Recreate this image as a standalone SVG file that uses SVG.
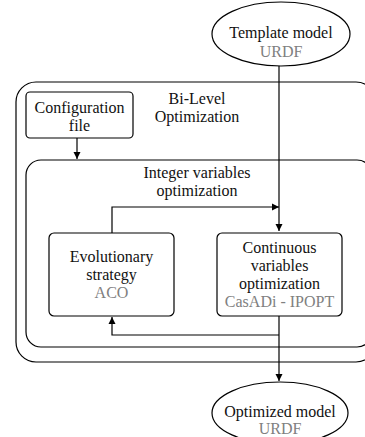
<svg xmlns="http://www.w3.org/2000/svg" width="365" height="437" viewBox="0 0 365 437">
<defs>
<marker id="ah" markerWidth="8" markerHeight="8" refX="7" refY="4" orient="auto" markerUnits="userSpaceOnUse">
<path d="M0,0.5 L7,4 L0,7.5 Z" fill="#000"/>
</marker>
<style>
.box{fill:#fff;stroke:#000;stroke-width:1.2}
.t{font-size:16px;fill:#111;text-anchor:middle}
.g{fill:#808080}
.c{fill:none;stroke:#000;stroke-width:1.2}
</style>
</defs>
<g font-family="Liberation Serif, Times New Roman, DejaVu Serif, serif">
<g id="bilevel">
<rect class="box" x="16" y="82" width="360" height="280" rx="20"/>
<text class="t" x="197" y="104">Bi-Level</text>
<text class="t" x="197" y="122">Optimization</text>
</g>
<g id="config">
<rect class="box" x="26" y="92" width="107" height="46" rx="4"/>
<text class="t" x="79.5" y="113">Configuration</text>
<text class="t" x="79.5" y="131">file</text>
</g>
<g id="integer">
<rect class="box" x="26" y="160" width="346" height="187" rx="15"/>
<text class="t" x="197" y="178">Integer variables</text>
<text class="t" x="197" y="196">optimization</text>
</g>
<g id="evolutionary">
<rect class="box" x="49" y="233" width="125" height="83" rx="5"/>
<text class="t" x="111.5" y="262">Evolutionary</text>
<text class="t" x="111.5" y="280">strategy</text>
<text class="t g" x="111.5" y="298">ACO</text>
</g>
<g id="continuous">
<rect class="box" x="217" y="233" width="125" height="83" rx="5"/>
<text class="t" x="279.5" y="253">Continuous</text>
<text class="t" x="279.5" y="271">variables</text>
<text class="t" x="279.5" y="289">optimization</text>
<text class="t g" x="279.5" y="307">CasADi - IPOPT</text>
</g>
<g id="template">
<ellipse class="box" cx="281" cy="34" rx="69" ry="32"/>
<text class="t" x="281" y="38">Template model</text>
<text class="t g" x="281" y="57">URDF</text>
</g>
<g id="optimized">
<ellipse class="box" cx="280" cy="413" rx="68" ry="31"/>
<text class="t" x="280" y="417">Optimized model</text>
<text class="t g" x="280" y="434">URDF</text>
</g>
</g>
<g id="connectors">
<path class="c" d="M279,66 L279,231" marker-end="url(#ah)"/>
<path class="c" d="M77,138 L77,159" marker-end="url(#ah)"/>
<path class="c" d="M112,233 L112,207 L279,207" marker-end="url(#ah)"/>
<path class="c" d="M279,316 L279,381" marker-end="url(#ah)"/>
<path class="c" d="M279,335 L112,335 L112,317" marker-end="url(#ah)"/>
</g>
</svg>
